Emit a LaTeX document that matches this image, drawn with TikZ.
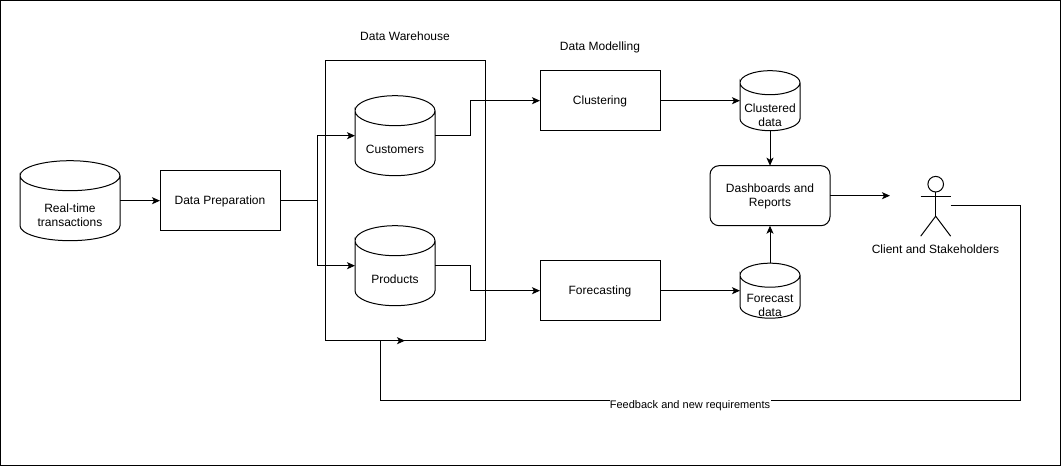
\documentclass[tikz,border=0pt]{standalone}
\usepackage{fontspec}
\setmainfont{Liberation Sans}
\usetikzlibrary{arrows.meta}
% outline of a data store around a named node: name, x radius, y radius
\newcommand{\storeline}[3]{%
    \draw ([yshift=-#3*0.75pt]#1.north west)
        arc[start angle=180,end angle=360,x radius=#2,y radius=#3]
        arc[start angle=0,end angle=180,x radius=#2,y radius=#3]
        -- ([yshift=#3*0.75pt]#1.south west)
        arc[start angle=180,end angle=0,x radius=#2,y radius=#3]
        -- ([yshift=-#3*0.75pt]#1.north east);}
\begin{document}
\begin{tikzpicture}[x=0.75pt,y=-0.75pt,line width=0.75pt,
    every node/.style={font=\fontsize{9}{10.5}\selectfont,align=center,inner sep=0pt,outer sep=0pt},
    process/.style={draw,minimum width=90pt,minimum height=45pt,text height=7pt,text depth=0.9pt},
    store/.style={minimum width=60pt,minimum height=60pt},
    smallstore/.style={minimum width=45pt,minimum height=45pt},
    link/.style={-{Stealth[length=6pt,width=5.25pt,inset=1.5pt]}}]
    \useasboundingbox (0,-0.7) rectangle (1061,465.3);
    \draw (0.5,-0.2) rectangle (1060.5,464.8);
    % Left side: source and preparation
    \node[store,minimum width=75pt] (source) at (70,200) {};
    \storeline{source}{50}{15}
    \node (sourcetext) at (70,215) {Real-time\\transactions};
    \node[process] (prep) at (220,200) {Data Preparation};
    % Warehouse with its two stores
    \node[draw,minimum width=120pt,minimum height=210pt] (warehouse) at (405.5,200) {};
    \node (warehousetext) at (405,36) {Data Warehouse};
    \node[store] (customers) at (395,135) {};
    \storeline{customers}{40}{15}
    \node (customerstext) at (395,148.6) {Customers};
    \node[store] (products) at (395,265) {};
    \storeline{products}{40}{15}
    \node (productstext) at (395,278.6) {Products};
    % Modelling
    \node (modeltext) at (600,46.8) {Data Modelling};
    \node[process] (clustering) at (600,100) {Clustering};
    \node[process] (forecasting) at (600,290) {Forecasting};
    \node[smallstore] (clustered) at (770,100) {};
    \storeline{clustered}{30}{12}
    \node (clusteredtext) at (770,115) {Clustered\\data};
    \node[smallstore,minimum height=41.25pt] (forecast) at (770,290) {};
    \storeline{forecast}{30}{12}
    \node (forecasttext) at (770,305) {Forecast\\data};
    \node[process,rounded corners=6.75pt] (dash) at (770,195) {};
    \node (dashtext) at (770,196) {Dashboards and\\Reports};
    % Actor
    \node[draw,circle,minimum size=11.7pt] (head) at (935.7,183.5) {};
    \coordinate (armleft) at (920.7,195.5);
    \coordinate (armright) at (950.7,195.5);
    \coordinate (hip) at (935.7,215.5);
    \coordinate (legleft) at (920.7,235.5);
    \coordinate (legright) at (950.7,235.5);
    \draw (head.south) -- (hip);
    \draw (armleft) -- (armright);
    \draw (legleft) -- (hip) -- (legright);
    \node (actortext) at (935.5,249) {Client and Stakeholders};
    % Bend points
    \coordinate (split) at (317.5,200);
    \coordinate (bendtop) at (470,100);
    \coordinate (bendlow) at (470,290);
    \coordinate (dashend) at (890,195);
    \coordinate (fbstart) at (950.7,205);
    \coordinate (fbright) at (1020.5,400);
    \coordinate (fbleft) at (380.5,400);
    \coordinate (fbend) at (405,340);
    % Connectors
    \draw[link] (source.east) -- (prep.west);
    \draw[link] (prep.east) -- (split) |- (customers.west);
    \draw[link] (split) |- (products.west);
    \draw[link] (customers.east) -| (bendtop) -- (clustering.west);
    \draw[link] (products.east) -| (bendlow) -- (forecasting.west);
    \draw[link] (clustering.east) -- (clustered.west);
    \draw[link] (forecasting.east) -- (forecast.west);
    \draw[link] (clustered.south) -- (dash.north);
    \draw[link] (forecast.north) -- (dash.south);
    \draw[link] (dash.east) -- (dashend);
    \draw[link] (fbstart) -| (fbright) -- (fbleft) |- (fbend);
    \node[fill=white,font=\fontsize{8.25}{10}\selectfont,inner xsep=0.3pt,inner ysep=0.5pt] (fbtext) at (690,404.6) {Feedback and new requirements};
\end{tikzpicture}
\end{document}
